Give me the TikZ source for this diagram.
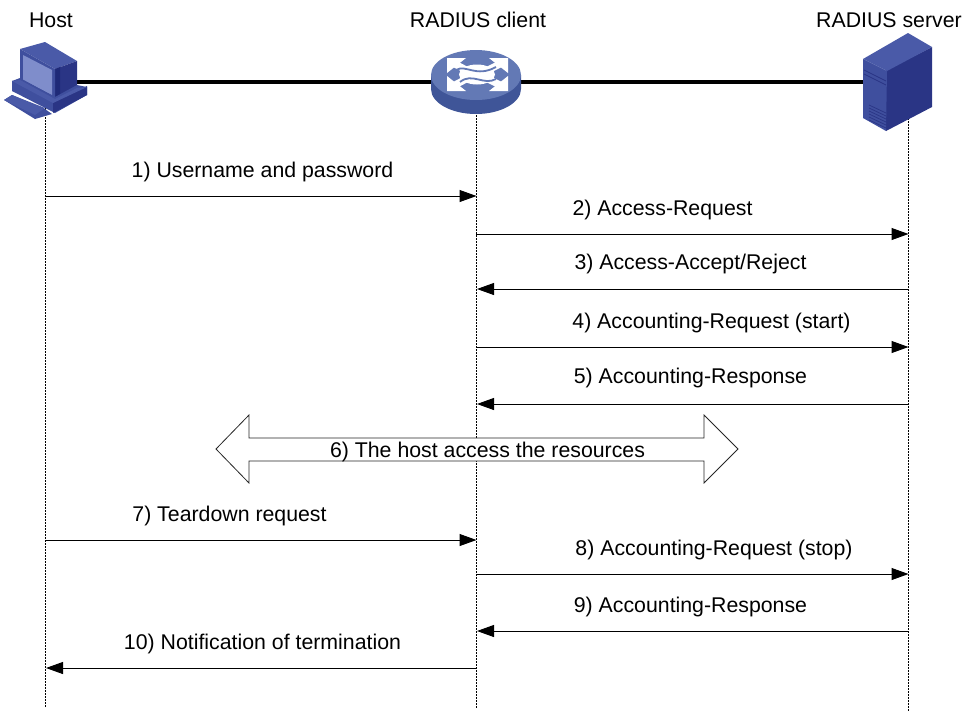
\documentclass[tikz,border=0pt]{standalone}
\usepackage{fontspec}
\setmainfont{Liberation Sans}
\usetikzlibrary{arrows.meta}
\definecolor{icA}{HTML}{3F4F9E}
\definecolor{icB}{HTML}{2A3585}
\definecolor{icC}{HTML}{4A5AA8}
\definecolor{icD}{HTML}{7F8DCB}
\definecolor{icE}{HTML}{1F2A78}
\definecolor{rtTop}{HTML}{6379B5}
\definecolor{rtSide}{HTML}{3F5598}
\tikzset{
  life/.style={line width=1pt,dash pattern=on 1.5pt off 1.5pt},
  msg/.style={line width=1pt,-{Triangle[length=17pt,width=12pt]}},
  msgr/.style={msg,shorten >=-0.5pt},
  msgl/.style={msg,shorten >=1pt},
  lbl/.style={font=\fontsize{21.3}{25}\selectfont,inner sep=0pt,anchor=center},
  trunk/.style={line width=4pt},
  blockarrow/.style={draw=black!85,line width=0.8pt,fill=white},
  rhead/.style={fill=white},
  rshaft/.style={draw=white,line width=7pt},
  rwave/.style={draw=rtTop,line width=1.8pt}
}
\begin{document}
\begin{tikzpicture}[x=1pt,y=-1pt]
\useasboundingbox (0,0) rectangle (966,716);
% anchors
\foreach \n/\y in {tA/118,a/196,b/234,c/289,d/347,e/404,f/540,g/574,h/631,i/668,z/708}{
  \coordinate (H\n) at (45,\y);
  \coordinate (C\n) at (476,\y);
  \coordinate (S\n) at (908,\y);
}
\coordinate (Htop) at (45,108);
\coordinate (Ctop) at (476,112);
\coordinate (Stop) at (908,112);
\coordinate (Sbot) at (908,711);
\coordinate (Hlink) at (70,82);
\coordinate (Clink) at (476,82);
\coordinate (Slink) at (866,82);
% lifelines
\draw[life] (Htop) -- (Hz);
\draw[life] (Ctop) -- (Cz);
\draw[life] (Stop) -- (Sbot);
% backbone
\draw[trunk] (Hlink) -- (Clink);
\draw[trunk] (Clink) -- (Slink);
% host icon
\fill[icC] (20,49) -- (45,42) -- (77,61) -- (55,69) -- cycle;
\fill[icB] (55,69) -- (77,61) -- (77,89) -- (55,99) -- cycle;
\fill[icE] (55,69) -- (60,67) -- (60,96) -- (55,99) -- cycle;
\fill[icA] (20,49) -- (55,69) -- (55,99) -- (20,80) -- cycle;
\fill[icD] (23,55) -- (52,70) -- (52,95) -- (23,80) -- cycle;
\fill[icA] (12,81) -- (20,78) -- (55,97) -- (77,85) -- (87,87) -- (87,95) -- (55,113) -- (12,91) -- cycle;
\fill[icB] (53,103) -- (87,86) -- (87,95) -- (53,113) -- cycle;
\fill[icC] (20,80) -- (55,99) -- (77,88) -- (87,87) -- (53,103) -- (12,81) -- cycle;
\fill[icA] (4,100) -- (12,95) -- (45,109) -- (52,114) -- (35,119) -- cycle;
\fill[icC] (4,100) -- (12,95) -- (45,108) -- (35,115) -- cycle;
% router icon
\fill[rtSide] (431,75) -- (431,89) arc[start angle=180,end angle=0,x radius=45,y radius=25] -- (521,75) -- cycle;
\fill[rtTop] (476,75) ellipse[x radius=45,y radius=25];
\fill[rhead] (447,58) -- (466,58) -- (447,73) -- cycle;
\fill[rhead] (508,58) -- (489,58) -- (508,73) -- cycle;
\fill[rhead] (447,91) -- (466,91) -- (447,76) -- cycle;
\fill[rhead] (508,91) -- (489,91) -- (508,76) -- cycle;
\draw[rshaft] (453,63) -- (470,72);
\draw[rshaft] (502,63) -- (484,72);
\draw[rshaft] (453,86) -- (470,77);
\draw[rshaft] (502,86) -- (484,77);
\fill[white] (477,74.5) ellipse[x radius=18,y radius=10];
\draw[rwave] (456,70) .. controls (466,64) and (476,78) .. (496,67);
\draw[rwave] (460,82) .. controls (472,72) and (484,86) .. (496,79);
% server icon
\fill[icB] (886,70) -- (932,47) -- (932,107) -- (886,131) -- cycle;
\fill[icA] (863,59) -- (887,71) -- (886,131) -- (863,118) -- cycle;
\fill[icC] (863,59) -- (908,33) -- (932,47) -- (887,71) -- cycle;
\draw[icB,line width=0.8pt] (864,70) -- (886,81);
\draw[icB,line width=0.8pt] (864,74) -- (886,85);
\foreach \k in {0,1,2,3,4,5}{\draw[icB,line width=0.7pt] (869,105+\k*3) -- (886,113+\k*3);}
% messages
\draw[msgr] (Ha) -- (Ca);
\draw[msgr] (Cb) -- (Sb);
\draw[msgl] (Sc) -- (Cc);
\draw[msgr] (Cd) -- (Sd);
\draw[msgl] (Se) -- (Ce);
\draw[msgr] (Hf) -- (Cf);
\draw[msgr] (Cg) -- (Sg);
\draw[msgl] (Sh) -- (Ch);
\draw[msgl] (Ci) -- (Hi);
% block arrow
\draw[blockarrow] (216,449) -- (249,415) -- (249,438) -- (704,438) -- (704,415) -- (738,449) -- (704,483) -- (704,461) -- (249,461) -- (249,483) -- cycle;
% labels
\node[lbl] (lhost) at (51,20) {Host};
\node[lbl] (lclient) at (478,20) {RADIUS client};
\node[lbl] (lserver) at (889,20) {RADIUS server};
\node[lbl] (m1) at (262.5,172) {1) Username and password};
\node[lbl] (m2) at (662.5,210) {2) Access-Request};
\node[lbl] (m3) at (690.5,264) {3) Access-Accept/Reject};
\node[lbl] (m4) at (711.5,323) {4) Accounting-Request (start)};
\node[lbl] (m5) at (690.5,378) {5) Accounting-Response};
\node[lbl] (m6) at (487.5,452) {6) The host access the resources};
\node[lbl] (m7) at (229.5,516) {7) Teardown request};
\node[lbl] (m8) at (714,550) {8) Accounting-Request (stop)};
\node[lbl] (m9) at (690.5,607) {9) Accounting-Response};
\node[lbl] (m10) at (262.5,644) {10) Notification of termination};
\end{tikzpicture}
\end{document}
